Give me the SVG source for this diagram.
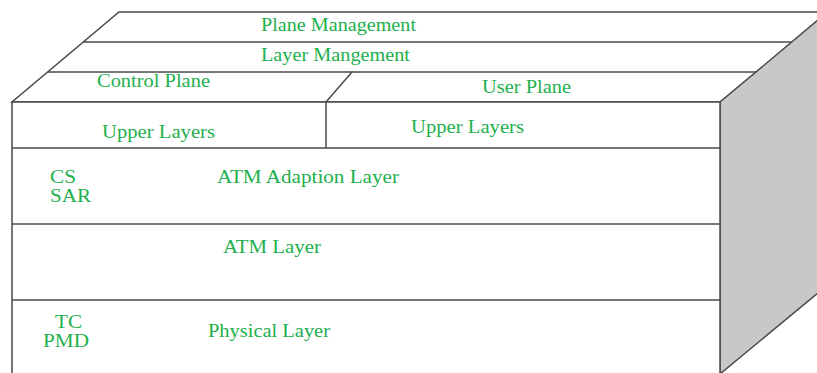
<svg xmlns="http://www.w3.org/2000/svg" width="817" height="373" viewBox="0 0 817 373">
<style>
.ln{stroke:#4a4a4a;stroke-width:1.5;fill:none}
.face{fill:#ffffff;stroke:#4a4a4a;stroke-width:1.5}
.side{fill:#c8c9c6;stroke:#4a4a4a;stroke-width:1.5}
.t{font-family:"Liberation Serif","Times New Roman",serif;font-size:18px;fill:#22b04e}
</style>
<rect x="0" y="0" width="817" height="373" fill="#ffffff"/>
<g id="top-face">
<polygon class="face" points="119,12 830,12 720,102 12,102"/>
</g>
<g id="side-face">
<polygon class="side" points="720,102 818,20 818,293 720,374"/>
</g>
<g id="front-face">
<rect class="face" x="12" y="102" width="708" height="280"/>
</g>
<g id="connectors">
<line class="ln" x1="83" y1="42" x2="792" y2="42"/>
<line class="ln" x1="48" y1="72" x2="756" y2="72"/>
<line class="ln" x1="326" y1="102" x2="352" y2="72"/>
<line class="ln" x1="326" y1="102" x2="326" y2="148"/>
<line class="ln" x1="12" y1="148" x2="720" y2="148"/>
<line class="ln" x1="12" y1="224" x2="720" y2="224"/>
<line class="ln" x1="12" y1="300" x2="720" y2="300"/>
</g>
<g id="plane-management"><text class="t" x="261" y="31" textLength="155" lengthAdjust="spacingAndGlyphs">Plane Management</text></g>
<g id="layer-management"><text class="t" x="261" y="61" textLength="149" lengthAdjust="spacingAndGlyphs">Layer Mangement</text></g>
<g id="control-plane"><text class="t" x="97" y="87" textLength="113" lengthAdjust="spacingAndGlyphs">Control Plane</text></g>
<g id="user-plane"><text class="t" x="482" y="93" textLength="89" lengthAdjust="spacingAndGlyphs">User Plane</text></g>
<g id="upper-layers-control"><text class="t" x="102" y="138" textLength="113" lengthAdjust="spacingAndGlyphs">Upper Layers</text></g>
<g id="upper-layers-user"><text class="t" x="411" y="133" textLength="113" lengthAdjust="spacingAndGlyphs">Upper Layers</text></g>
<g id="aal">
<text class="t" x="50" y="183" textLength="26" lengthAdjust="spacingAndGlyphs">CS</text>
<text class="t" x="50" y="202" textLength="41" lengthAdjust="spacingAndGlyphs">SAR</text>
<text class="t" x="217" y="183" textLength="182" lengthAdjust="spacingAndGlyphs">ATM Adaption Layer</text>
</g>
<g id="atm-layer"><text class="t" x="223" y="253" textLength="98" lengthAdjust="spacingAndGlyphs">ATM Layer</text></g>
<g id="physical-layer">
<text class="t" x="55" y="328" textLength="27" lengthAdjust="spacingAndGlyphs">TC</text>
<text class="t" x="43" y="347" textLength="46" lengthAdjust="spacingAndGlyphs">PMD</text>
<text class="t" x="208" y="337" textLength="122" lengthAdjust="spacingAndGlyphs">Physical Layer</text>
</g>
</svg>
